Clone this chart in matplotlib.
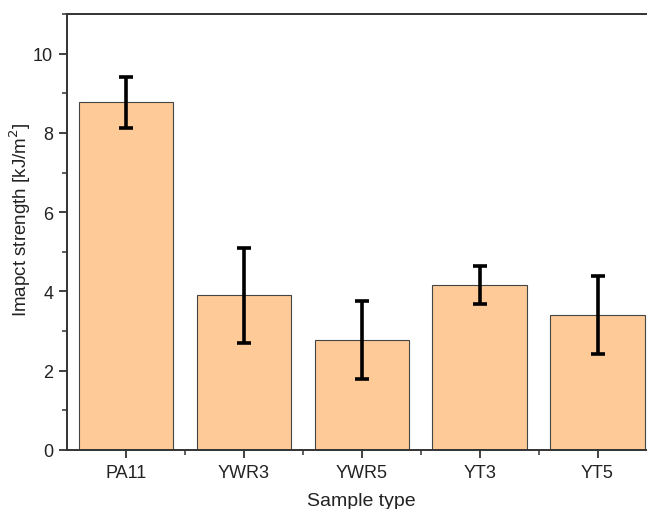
import matplotlib.pyplot as plt
from matplotlib.ticker import MultipleLocator, FixedLocator

plt.rcParams['font.family'] = ['Liberation Sans', 'DejaVu Sans']

# data
samples = ['PA11', 'YWR3', 'YWR5', 'YT3', 'YT5']
strength = [8.77, 3.90, 2.77, 4.17, 3.41]
errors = [0.64, 1.19, 0.98, 0.48, 0.99]

fig = plt.figure(figsize=(6.47, 5.10), dpi=100)
ax = fig.add_axes([0.1036, 0.1157, 0.911, 0.8549])

pos = list(range(1, len(samples) + 1))
ax.bar(pos, strength, width=0.8, color='#FECB98', edgecolor='#444444', linewidth=0.8, zorder=2)
ax.errorbar(pos, strength, yerr=errors, fmt='none', ecolor='black',
            elinewidth=2.6, capsize=5, capthick=2.6, zorder=3)

ax.set_xlim(0.5, 5.5)
ax.set_ylim(0, 11)
ax.set_xticks(pos)
ax.set_xticklabels(samples)
ax.xaxis.set_minor_locator(FixedLocator([1.5, 2.5, 3.5, 4.5]))
ax.yaxis.set_major_locator(MultipleLocator(2))
ax.yaxis.set_minor_locator(MultipleLocator(1))

for s in ax.spines.values():
    s.set_linewidth(1.4)
    s.set_color('#333333')

ax.tick_params(which='major', direction='out', length=6, width=1.3, labelsize=13,
               color='#333333', labelcolor='#222222', pad=4)
ax.tick_params(which='minor', direction='out', length=3.5, width=1.1, color='#333333')
ax.tick_params(axis='x', which='both', top=False)
ax.tick_params(axis='y', which='both', right=False)

ax.set_xlabel('Sample type', fontsize=14, color='#222222', labelpad=8)
ax.set_ylabel('Imapct strength [kJ/m$^2$]', fontsize=13.5, color='#222222')
ax.yaxis.set_label_coords(-0.057, 0.53)

fig.savefig('out.png', dpi=100)
